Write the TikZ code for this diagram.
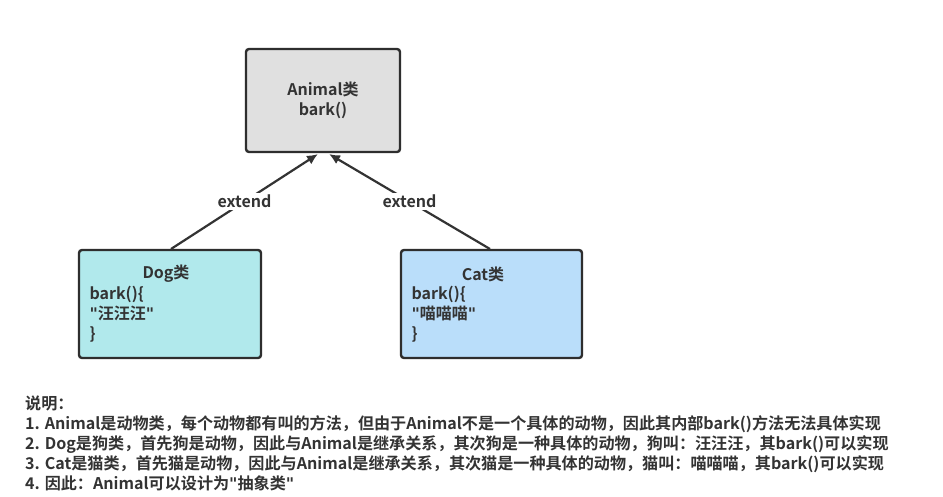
\documentclass[tikz,border=0pt]{standalone}
\usepackage{fontspec}
\setmainfont{Noto Sans CJK SC}[BoldFont={* Bold}]
\newfontfamily\qfont{DejaVu Sans}[Ligatures=NoCommon]
\usetikzlibrary{arrows.meta}
\definecolor{tx}{HTML}{333333}
\newcommand{\qq}{{\qfont\char"0022}}
\begin{document}
\begin{tikzpicture}[x=1pt,y=-1pt,
  box/.style={draw=tx!90!black,line width=2.4pt,rounded corners=3pt,inner sep=0pt},
  fnt/.style={font=\bfseries\fontsize{16}{20}\selectfont,text=tx},
  lab/.style={fnt,align=left,anchor=west},
  con/.style={draw=tx,line width=2.2pt,-{Latex[length=11pt,width=10pt]}},
  elab/.style={fnt,fill=white,inner sep=2pt}]
\useasboundingbox (0,0) rectangle (943,496);
\fill[white] (0,0) rectangle (943,496);
\draw[box,fill={rgb,255:red,224;green,224;blue,224}] (246,49) rectangle (400,152);
\node[fnt,align=center] (animal) at (323,100) {Animal类\\bark()};
\coordinate (atl) at (318,154);
\coordinate (atr) at (329,154);
\draw[box,fill={rgb,255:red,177;green,233;blue,236}] (79,250) rectangle (261,358);
\draw[box,fill={rgb,255:red,186;green,222;blue,250}] (401,250) rectangle (582,358);
\coordinate (dogtop) at (171,249);
\coordinate (cattop) at (490,249);
\node[fnt] (dogt) at (166,274) {Dog类};
\node[lab] (dogb) at (86,314) {bark()\{\\\qq 汪汪汪\qq\\\}};
\node[fnt] (catt) at (483,274) {Cat类};
\node[lab] (catb) at (408,314) {bark()\{\\\qq 喵喵喵\qq\\\}};
\draw[con] (dogtop) -- (atl) node[elab,pos=0.5] {extend};
\draw[con] (cattop) -- (atr) node[elab,pos=0.5] {extend};
\node[anchor=north west,font=\bfseries\fontsize{16.1}{19.8}\selectfont,text=tx,align=left,inner sep=0pt] (note) at (25,396) {说明：\\
1. Animal是动物类，每个动物都有叫的方法，但由于Animal不是一个具体的动物，因此其内部bark()方法无法具体实现\\
2. Dog是狗类，首先狗是动物，因此与Animal是继承关系，其次狗是一种具体的动物，狗叫：汪汪汪，其bark()可以实现\\
3. Cat是猫类，首先猫是动物，因此与Animal是继承关系，其次猫是一种具体的动物，猫叫：喵喵喵，其bark()可以实现\\
4. 因此：Animal可以设计为\qq 抽象类\qq};
\end{tikzpicture}
\end{document}
